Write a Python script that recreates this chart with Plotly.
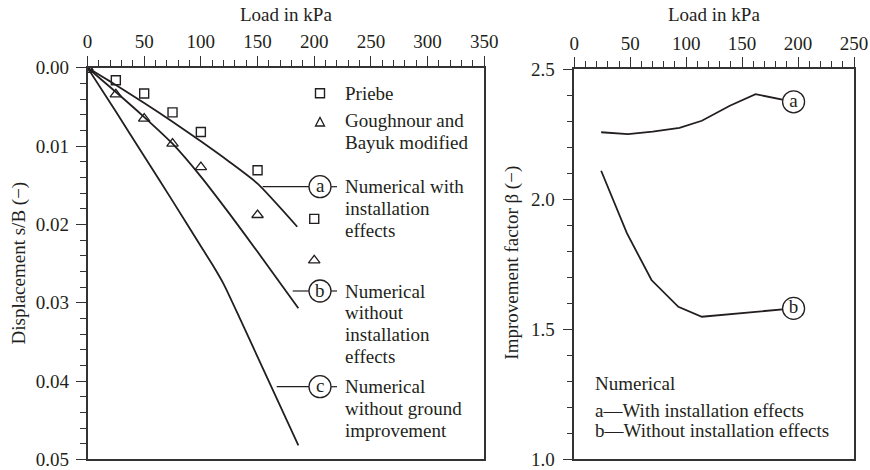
import plotly.graph_objects as go

# ---------------- data ----------------
# Left panel: load (kPa) vs displacement s/B (-)
priebe_load = [0, 25, 50, 75, 100, 150, 200]
priebe_sb = [0.0, 0.0016, 0.0033, 0.0057, 0.0082, 0.0131, 0.0193]

goughnour_load = [0, 25, 50, 75, 100, 150, 200]
goughnour_sb = [0.0, 0.0034, 0.0065, 0.0097, 0.0127, 0.0188, 0.0246]

num_a_load = [0, 25, 50, 75, 100, 125, 150, 185]
num_a_sb = [0.0, 0.0022, 0.0045, 0.0069, 0.0094, 0.0120, 0.0148, 0.0203]

num_b_load = [0, 25, 50, 75, 100, 125, 150, 186]
num_b_sb = [0.0, 0.0031, 0.0063, 0.0097, 0.0139, 0.0186, 0.0235, 0.0307]

num_c_load = [0, 25, 50, 75, 100, 110, 120, 135, 150, 186]
num_c_sb = [0.0, 0.0056, 0.0113, 0.0170, 0.0228, 0.0251, 0.0276, 0.0322, 0.0369, 0.0482]

# Right panel: load (kPa) vs improvement factor beta (-)
beta_a_load = [24, 48, 70, 94, 114, 139, 162, 196]
beta_a = [2.257, 2.250, 2.259, 2.274, 2.301, 2.359, 2.403, 2.374]

beta_b_load = [24, 47, 69, 93, 114, 196]
beta_b = [2.109, 1.869, 1.689, 1.586, 1.548, 1.580]

left_xticks = [0, 50, 100, 150, 200, 250, 300, 350]
left_yticks = [0.0, 0.01, 0.02, 0.03, 0.04, 0.05]
right_xticks = [0, 50, 100, 150, 200, 250]
right_yticks = [1.0, 1.5, 2.0, 2.5]

# ---------------- style ----------------
W, H = 870, 470
FONT = "Liberation Serif"
FS = 19
TXT = "#231f20"
LINE = "#231f20"
AX = "#333333"


def px(x):
    return x / W


def py(y):
    return 1 - y / H


fig = go.Figure()

curve = dict(color=LINE, width=1.8)
scurve = dict(color=LINE, width=1.8, shape="spline", smoothing=0.6)
fig.add_trace(go.Scatter(x=num_a_load, y=num_a_sb, mode="lines", line=scurve, xaxis="x", yaxis="y"))
fig.add_trace(go.Scatter(x=num_b_load, y=num_b_sb, mode="lines", line=scurve, xaxis="x", yaxis="y"))
fig.add_trace(go.Scatter(x=num_c_load, y=num_c_sb, mode="lines", line=scurve, xaxis="x", yaxis="y"))
fig.add_trace(go.Scatter(x=priebe_load, y=priebe_sb, mode="markers",
                         marker=dict(symbol="square-open", size=9, color=LINE, line=dict(width=1.4)),
                         xaxis="x", yaxis="y"))
fig.add_trace(go.Scatter(x=goughnour_load, y=goughnour_sb, mode="markers",
                         marker=dict(symbol="triangle-up-open", size=10, color=LINE, line=dict(width=1.3)),
                         xaxis="x", yaxis="y"))

fig.add_trace(go.Scatter(x=beta_a_load, y=beta_a, mode="lines", line=curve, xaxis="x2", yaxis="y2"))
fig.add_trace(go.Scatter(x=beta_b_load, y=beta_b, mode="lines", line=curve, xaxis="x2", yaxis="y2"))
for xs, ys, lab in [(beta_a_load, beta_a, "a"), (beta_b_load, beta_b, "b")]:
    fig.add_trace(go.Scatter(x=[xs[-1]], y=[ys[-1]], mode="markers+text", text=[lab],
                             textposition="middle center",
                             textfont=dict(family=FONT, size=FS, color=TXT),
                             marker=dict(symbol="circle", size=22, color="white",
                                         line=dict(color=LINE, width=1.3)),
                             xaxis="x2", yaxis="y2"))

axis_common = dict(showgrid=False, zeroline=False, showline=True, mirror=True,
                   linecolor=AX, linewidth=1.5, ticks="outside", ticklen=10,
                   tickwidth=1.3, tickcolor=AX, automargin=False,
                   ticklabeloverflow="allow",
                   tickfont=dict(family=FONT, size=FS, color=TXT))

fig.update_layout(
    width=W, height=H,
    margin=dict(l=0, r=0, t=0, b=0, autoexpand=False),
    paper_bgcolor="white", plot_bgcolor="white",
    showlegend=False,
    font=dict(family=FONT, size=FS, color=TXT),
    xaxis=dict(domain=[px(87.5), px(484.3)], range=[0, 350], side="top",
               tickvals=left_xticks, anchor="y",
               minor=dict(dtick=10, ticklen=6, ticks="outside", tickcolor=AX, tickwidth=1.2),
               ticklabelstandoff=0, **axis_common),
    yaxis=dict(domain=[py(459.4), py(67.7)], range=[0.050001, 0], tickvals=left_yticks,
               tickformat=".2f", anchor="x",
               minor=dict(dtick=0.002, ticklen=6, ticks="outside", tickcolor=AX, tickwidth=1.2),
               ticklabelstandoff=3, **axis_common),
    xaxis2=dict(domain=[px(574.3), px(854)], range=[0, 250], side="top",
                tickvals=right_xticks, anchor="y2",
                minor=dict(dtick=10, ticklen=6, ticks="outside", tickcolor=AX, tickwidth=1.2),
                ticklabelstandoff=0, **axis_common),
    yaxis2=dict(domain=[py(459.3), py(69)], range=[1.0, 2.5], tickvals=right_yticks,
                tickformat=".1f", anchor="x2",
                minor=dict(dtick=0.1, ticklen=6, ticks="outside", tickcolor=AX, tickwidth=1.2),
                ticklabelstandoff=4, **axis_common),
)

ann = []


def text(x, y, s, xanchor="left", angle=0):
    ann.append(dict(x=px(x), y=py(y), xref="paper", yref="paper", text=s, showarrow=False,
                    xanchor=xanchor, yanchor="middle", textangle=angle,
                    font=dict(family=FONT, size=FS, color=TXT)))


text(285.9, 15, "Load in kPa", "center")
text(714, 15, "Load in kPa", "center")
text(18, 263.5, "Displacement s/B (−)", "center", -90)
text(511.7, 263, "Improvement factor β (−)", "center", -90)

# left legend
text(343.3, 93, "Priebe")
text(343.3, 121, "Goughnour and")
text(343.3, 143, "Bayuk modified")

# labels a, b, c
label_blocks = [
    ("a", 262.7, 186.7, ["Numerical with", "installation", "effects"]),
    ("b", 292.7, 291.0, ["Numerical", "without", "installation", "effects"]),
    ("c", 276.7, 386.7, ["Numerical", "without ground", "improvement"]),
]
shapes = []
for lab, x0, yc, lines in label_blocks:
    shapes.append(dict(type="line", xref="paper", yref="paper", x0=px(x0), x1=px(309),
                       y0=py(yc), y1=py(yc), line=dict(color=LINE, width=1.2)))
    shapes.append(dict(type="line", xref="paper", yref="paper", x0=px(331), x1=px(337),
                       y0=py(yc), y1=py(yc), line=dict(color=LINE, width=1.2)))
    shapes.append(dict(type="circle", xref="paper", yref="paper", x0=px(309), x1=px(331),
                       y0=py(yc + 11), y1=py(yc - 11), fillcolor="white",
                       line=dict(color=LINE, width=1.3)))
    text(320, yc - 1, lab, "center")
    for i, s in enumerate(lines):
        text(343.3, yc + 21.8 * i, s)

# legend symbols
shapes.append(dict(type="rect", xref="paper", yref="paper", x0=px(315.5), x1=px(324.5),
                   y0=py(97.8), y1=py(88.8), line=dict(color=LINE, width=1.4)))
shapes.append(dict(type="path", xref="paper", yref="paper",
                   path=f"M {px(315.5)} {py(126)} L {px(324.5)} {py(126)} L {px(320)} {py(117.5)} Z",
                   line=dict(color=LINE, width=1.3)))

# right-panel text
text(592.7, 383.3, "Numerical")
text(592.7, 410, "a—With installation effects")
text(592.7, 430.7, "b—Without installation effects")

fig.update_layout(annotations=ann, shapes=shapes)
fig.write_html("out.html",
               config={"displayModeBar": False},
               post_script="document.body.style.margin='0px';document.body.style.overflow='hidden';")
